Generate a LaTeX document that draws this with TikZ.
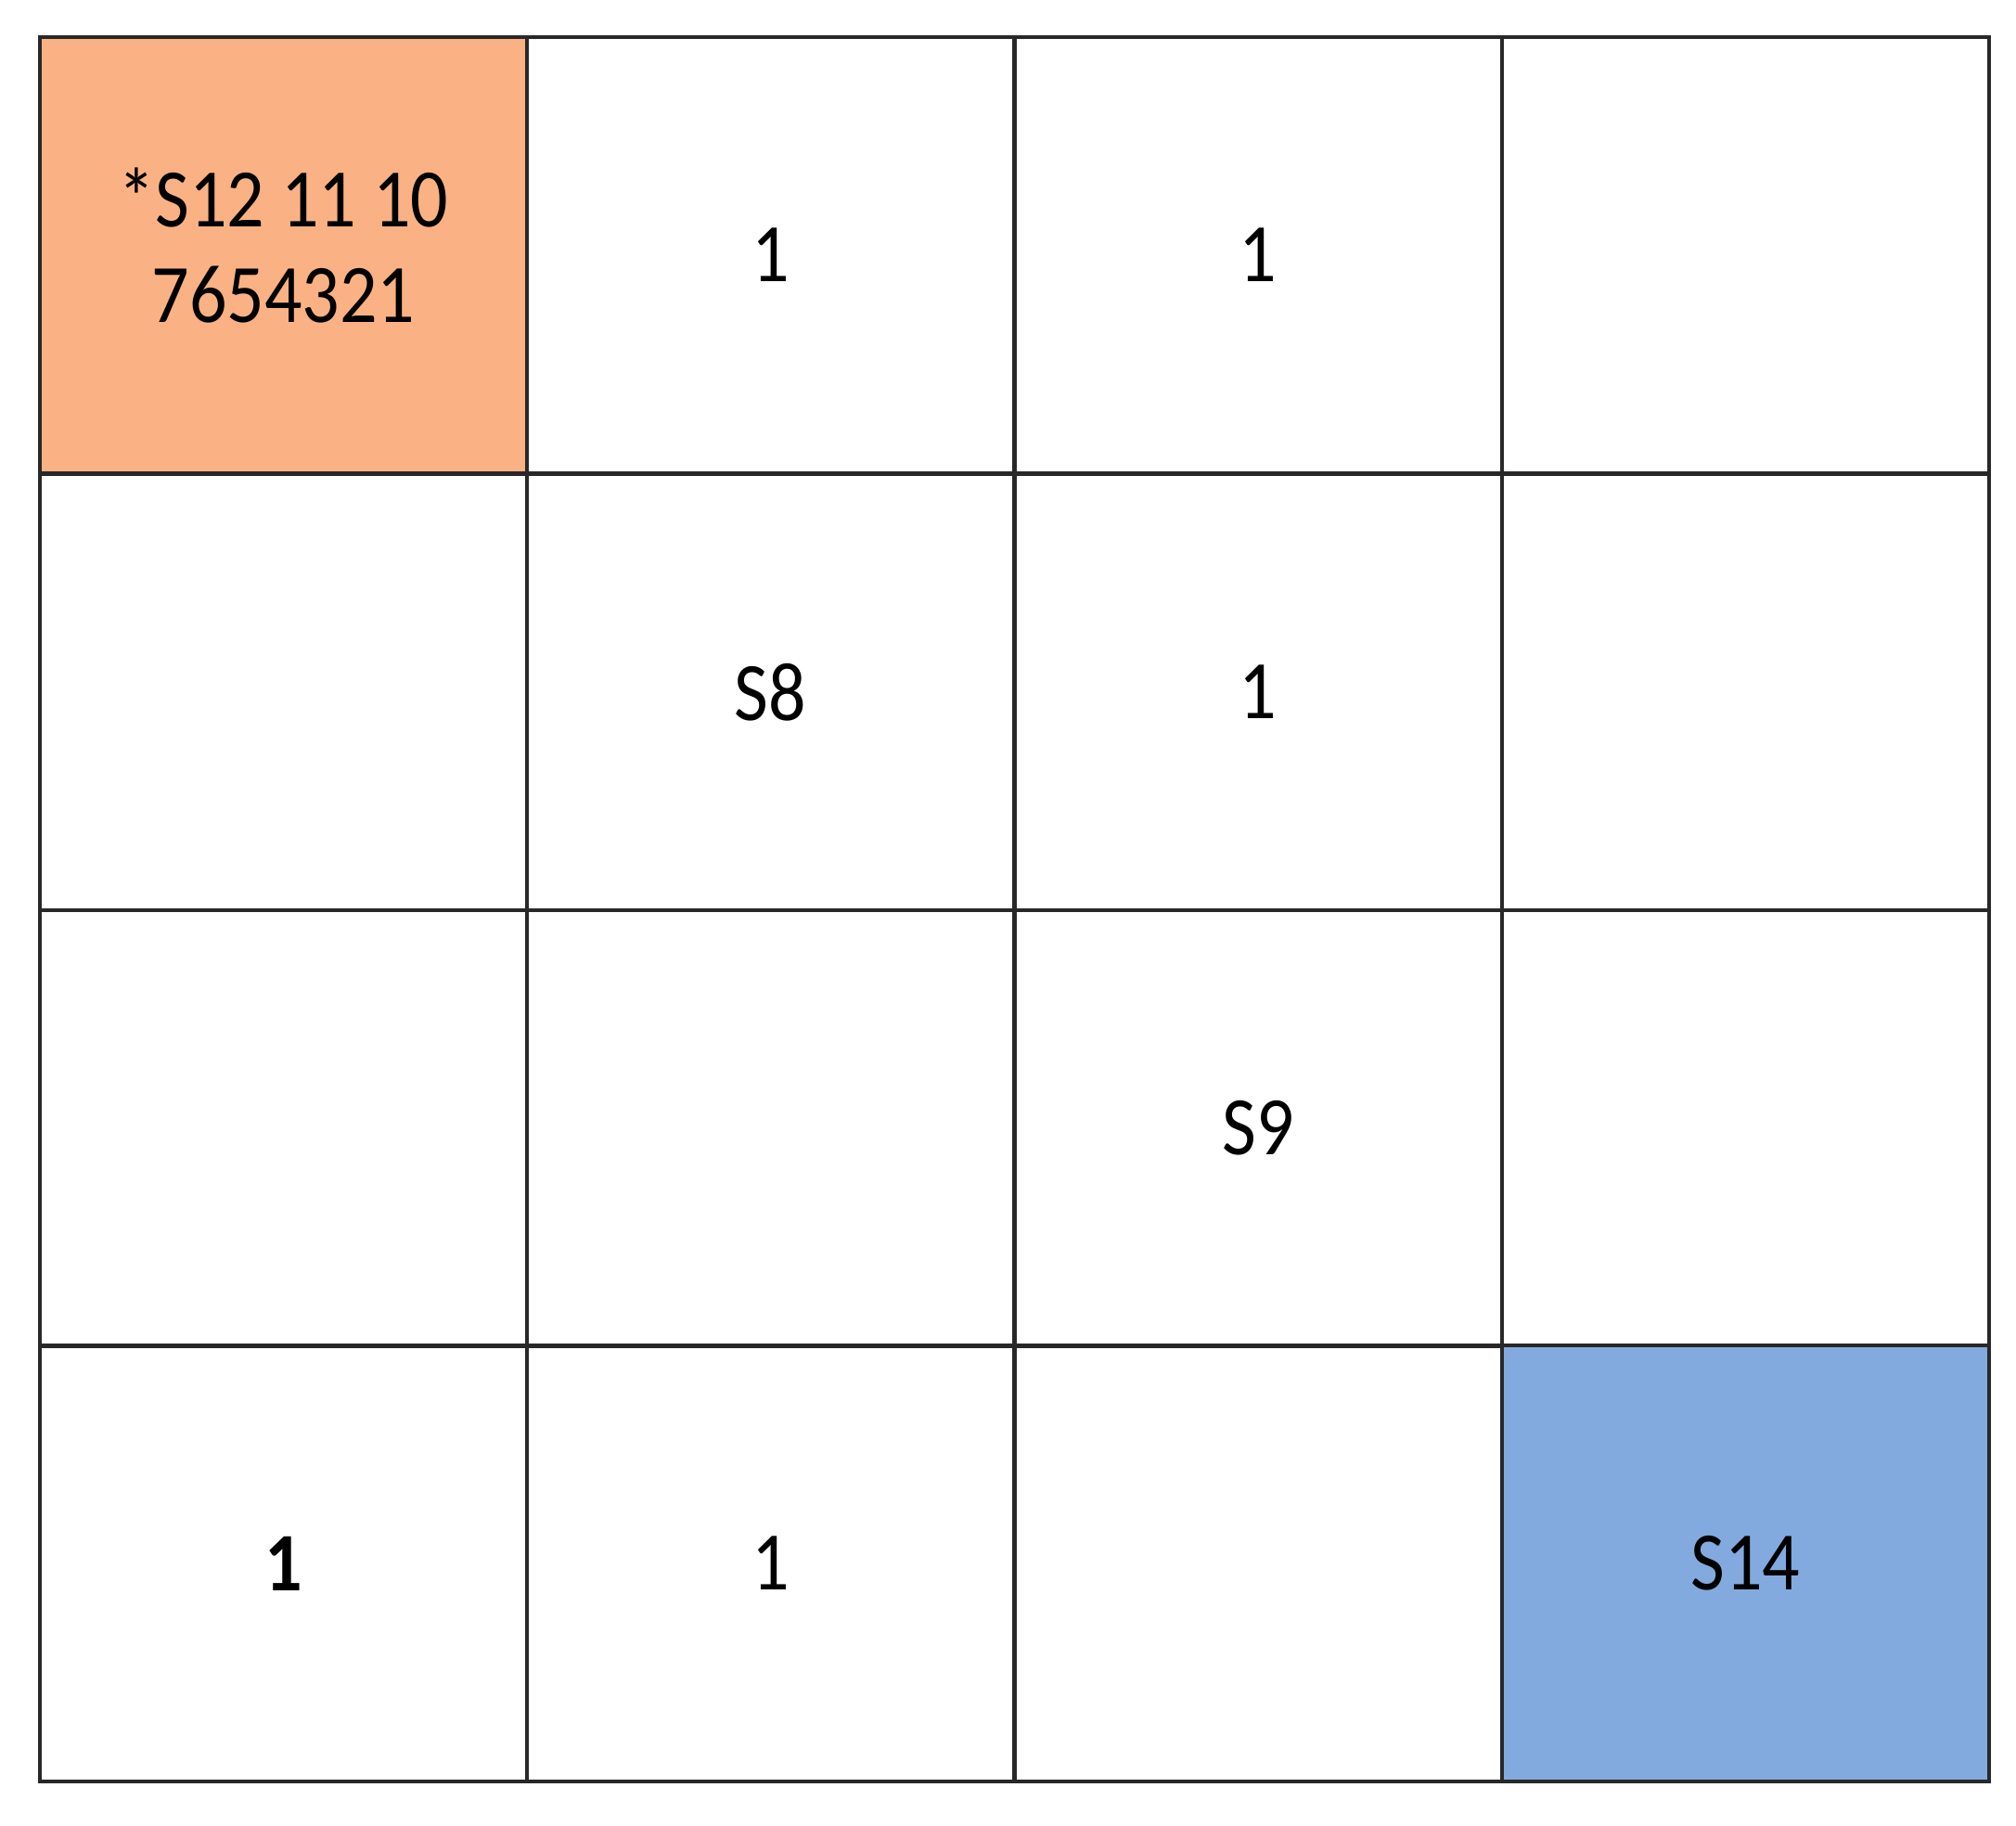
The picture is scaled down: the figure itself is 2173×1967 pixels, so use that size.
\documentclass[tikz,border=0pt]{standalone}
\usepackage{graphicx}
\usepackage{fontspec}
\setmainfont{Carlito}
\definecolor{cellorange}{RGB}{250,178,132}
\definecolor{cellblue}{RGB}{131,170,222}
\definecolor{gridline}{RGB}{40,40,40}
\newcommand\talltxt[1]{\scalebox{1}[1.12]{#1}}
\begin{document}
\begin{tikzpicture}[x=0.5pt,y=-0.5pt,
  cell/.style={draw=gridline, line width=2pt, minimum width=262.5pt, minimum height=235pt, inner sep=0pt, anchor=center,
    font=\fontsize{40pt}{46pt}\selectfont, align=center, text=black}]
\useasboundingbox (0,0) rectangle (2173,1967);
% row 1
\node[cell, fill=cellorange] (c11) at (305.5,275) {\talltxt{\begin{tabular}{@{}c@{}}*S12 11 10\\7654321\end{tabular}}};
\node[cell] (c12) at (830.5,275) {\talltxt{1}};
\node[cell] (c13) at (1356,275) {\talltxt{1}};
\node[cell] (c14) at (1881.5,275) {};
% row 2
\node[cell] (c21) at (305.5,746) {};
\node[cell] (c22) at (830.5,746) {\talltxt{S8}};
\node[cell] (c23) at (1356,746) {\talltxt{1}};
\node[cell] (c24) at (1881.5,746) {};
% row 3
\node[cell] (c31) at (305.5,1216) {};
\node[cell] (c32) at (830.5,1216) {};
\node[cell] (c33) at (1356,1216) {\talltxt{S9}};
\node[cell] (c34) at (1881.5,1216) {};
% row 4
\node[cell] (c41) at (305.5,1685) {\talltxt{\textbf{1}}};
\node[cell] (c42) at (830.5,1685) {\talltxt{1}};
\node[cell] (c43) at (1356,1685) {};
\node[cell, fill=cellblue] (c44) at (1881.5,1685) {\talltxt{S14}};
\end{tikzpicture}
\end{document}
